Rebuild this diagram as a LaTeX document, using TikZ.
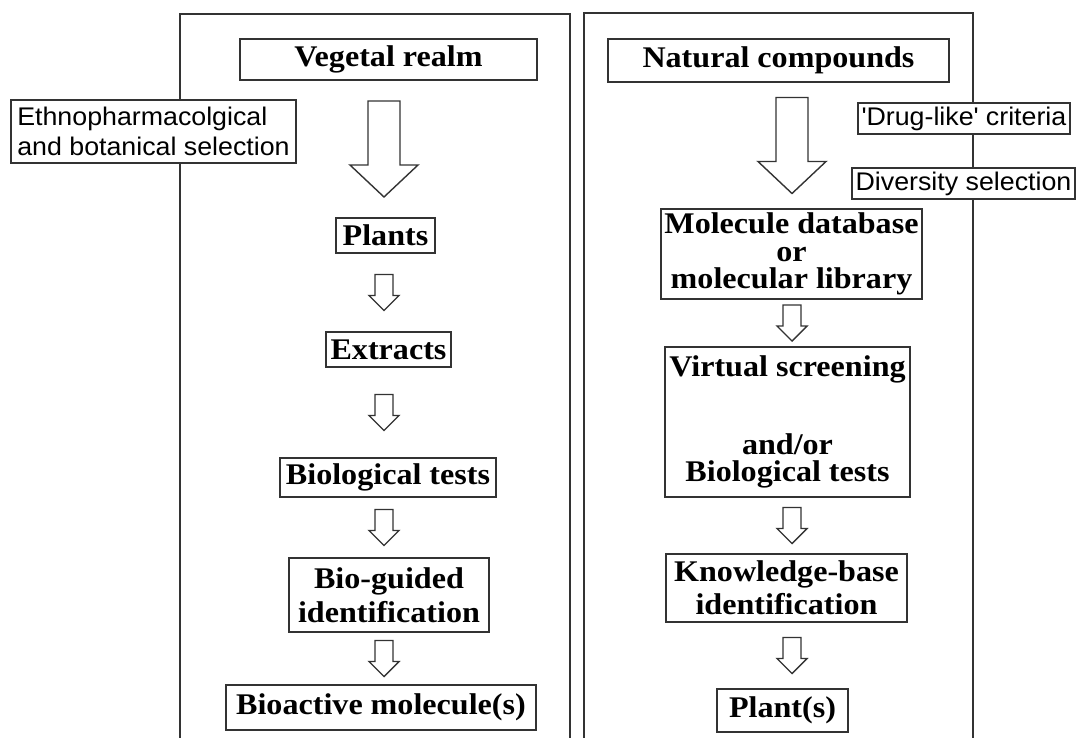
\documentclass[tikz,border=0pt]{standalone}
\usepackage{fontspec}
\setmainfont{Liberation Serif}[FakeStretch=1.07]
\newfontfamily\labelfont{Liberation Sans}[FakeStretch=1.05]
\usetikzlibrary{calc}
\tikzstyle{stage}=[rectangle,draw=black!80,line width=1.4pt,fill=white,inner sep=2pt,align=center,font={\fontsize{30}{27.5}\selectfont\bfseries}]
\tikzstyle{note}=[rectangle,draw=black!80,line width=1.4pt,fill=white,inner sep=2pt,font={\labelfont\fontsize{25.5}{30}\selectfont}]
\tikzstyle{panel}=[draw=black!80,line width=1.6pt]
\tikzstyle{hollow}=[draw=black!80,line width=1.4pt,fill=white,line join=miter]
% #1 column x, #2 from, #3 to, #4 length, #5 half shaft, #6 half head, #7 head length
\newcommand{\flowarrow}[7]{%
  \draw[hollow] let \p1=($(#2.south)!0.5!(#3.north)$) in
    (#1pt-#5pt,\y1+#4pt/2) -- (#1pt+#5pt,\y1+#4pt/2) -- (#1pt+#5pt,\y1-#4pt/2+#7pt)
    -- (#1pt+#6pt,\y1-#4pt/2+#7pt) -- (#1pt,\y1-#4pt/2) -- (#1pt-#6pt,\y1-#4pt/2+#7pt)
    -- (#1pt-#5pt,\y1-#4pt/2+#7pt) -- cycle;}
\newcommand{\smallarrow}[3]{\flowarrow{#1}{#2}{#3}{36}{9}{15}{15}}
\newcommand{\bigarrow}[3]{\flowarrow{#1}{#2}{#3}{96}{16}{34}{32}}

\begin{document}
\begin{tikzpicture}[x=1pt,y=-1pt]
    \useasboundingbox (0,0) rectangle (1076,738);
    % the two panels, open at the bottom
    \draw[panel] (180,738) -- (180,14) -- (570,14) -- (570,738);
    \draw[panel] (584,738) -- (584,13) -- (973,13) -- (973,738);

    % left panel
    \node[stage,minimum width=297pt,minimum height=41pt] (vegetal) at (388.5,59.5) {Vegetal realm};
    \node[note,align=left,minimum width=285pt,minimum height=63pt] (ethno) at (153.5,131.5) {Ethnopharmacolgical\\and botanical selection};
    \node[stage,minimum width=99pt,minimum height=35pt] (plants) at (385.5,235.5) {Plants};
    \node[stage,minimum width=125pt,minimum height=35pt] (extracts) at (388.5,349.5) {Extracts};
    \node[stage,minimum width=216pt,minimum height=39pt] (biotests) at (388,477.5) {Biological tests};
    \node[stage,minimum width=200pt,minimum height=74pt] (bioguided) at (389,595) {Bio-guided\\[5pt]identification};
    \node[stage,minimum width=310pt,minimum height=45pt] (bioactive) at (381,707.5) {Bioactive molecule(s)};

    % right panel
    \node[stage,minimum width=341pt,minimum height=43pt] (natural) at (778.5,60.5) {Natural compounds};
    \node[note,minimum width=212pt,minimum height=31pt] (druglike) at (964,118.5) {\textquotesingle Drug-like\textquotesingle\ criteria};
    \node[note,minimum width=223pt,minimum height=31pt] (diversity) at (963.5,183.5) {Diversity selection};
    \node[stage,minimum width=261pt,minimum height=90pt] (molecule) at (791.5,254) {Molecule database\\or\\molecular library};
    \node[stage,minimum width=245pt,minimum height=150pt] (virtual) at (787.5,422) {Virtual screening\\[50pt]and/or\\Biological tests};
    \node[stage,minimum width=241pt,minimum height=68pt] (knowledge) at (786.5,588) {Knowledge-base\\[4pt]identification};
    \node[stage,minimum width=131pt,minimum height=43pt] (plantsout) at (782.5,710.5) {Plant(s)};

    % hollow arrows
    \bigarrow{384}{vegetal}{plants}
    \smallarrow{384}{plants}{extracts}
    \smallarrow{384}{extracts}{biotests}
    \smallarrow{384}{biotests}{bioguided}
    \smallarrow{384}{bioguided}{bioactive}
    \bigarrow{792}{natural}{molecule}
    \smallarrow{792}{molecule}{virtual}
    \smallarrow{792}{virtual}{knowledge}
    \smallarrow{792}{knowledge}{plantsout}
\end{tikzpicture}
\end{document}
